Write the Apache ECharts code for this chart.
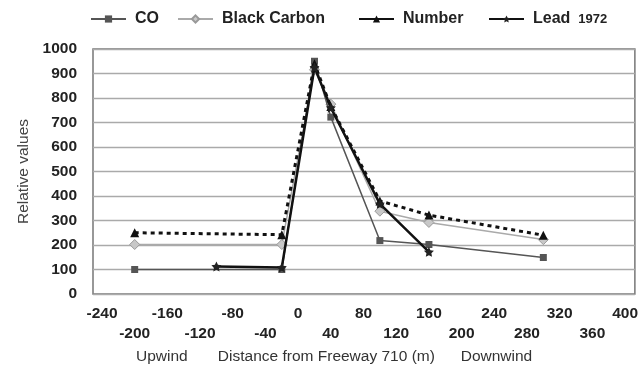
<!DOCTYPE html>
<html>
<head>
<meta charset="utf-8">
<script src="https://cdn.jsdelivr.net/npm/echarts@6/dist/echarts.min.js"></script>
<style>
  html, body { margin: 0; padding: 0; background: #fff; }
  #chart { width: 641px; height: 370px; }
</style>
</head>
<body>
<div id="chart"></div>
<script>
// Distance from the freeway (m), negative = upwind
const coX = [-200, -20, 20, 40, 100, 160, 300];
const coY = [100, 100, 950, 722, 218, 202, 149];

const bcX = [-200, -20, 20, 40, 100, 160, 300];
const bcY = [202, 202, 915, 775, 338, 292, 222];

const numX = [-200, -20, 20, 40, 100, 160, 300];
const numY = [250, 242, 940, 765, 380, 322, 240];

const leadX = [-100, -20, 20, 40, 100, 160];
const leadY = [112, 108, 925, 760, 368, 172];

const seriesNames = ['CO', 'Black Carbon', 'Number', 'Lead'];

// x tick labels, staggered on two rows
const xTickLabels = [-240, -200, -160, -120, -80, -40, 0, 40, 80, 120, 160, 200, 240, 280, 320, 360, 400];
const yTicks = { min: 0, max: 1000, step: 100 };

const pairs = (xs, ys) => xs.map((x, i) => [x, ys[i]]);

const FONT = '"Liberation Sans", Arial, sans-serif';
const chart = echarts.init(document.getElementById('chart'));

// one legend entry per block so each key sits in its own slot
const legendLeft = [85, 172, 353, 483];
const legends = seriesNames.map((name, i) => ({
  left: legendLeft[i], top: 6,
  itemWidth: 35, itemHeight: 9,
  lineStyle: { type: 'solid' },
  textStyle: { fontWeight: 'bold', fontSize: 16, color: '#222', padding: [0, 0, 0, 4],
    rich: {
      n: { fontSize: 16, fontWeight: 'bold', color: '#222' },
      y: { fontSize: 13, fontWeight: 'bold', color: '#222', padding: [0, 0, 0, 8] }
    } },
  formatter: n => n === 'Lead' ? '{n|Lead}{y|1972}' : n,
  data: [name]
}));

chart.setOption({
  animation: false,
  textStyle: { fontFamily: FONT },
  grid: { left: 93, right: 3, top: 49, bottom: 76, show: true,
          borderColor: '#777', borderWidth: 1.5, backgroundColor: 'transparent' },
  graphic: [{
    type: 'text',
    left: 136, top: 349,
    style: { text: 'Upwind       Distance from Freeway 710 (m)      Downwind',
             font: '15.5px ' + FONT, fill: '#333' }
  }],
  legend: legends,
  xAxis: {
    type: 'value',
    min: -251, max: 412,
    axisLine: { show: false },
    axisTick: { show: false },
    splitLine: { show: false },
    axisLabel: {
      customValues: xTickLabels,
      margin: 10,
      fontWeight: 'bold', fontSize: 15.5, color: '#222', lineHeight: 20,
      formatter: (v) => {
        const i = xTickLabels.indexOf(v);
        return i % 2 ? '\n' + v : String(v);
      }
    }
  },
  yAxis: {
    type: 'value',
    min: yTicks.min, max: yTicks.max, interval: yTicks.step,
    name: 'Relative values',
    nameLocation: 'middle', nameGap: 61, nameRotate: 90,
    nameTextStyle: { fontSize: 15.5, color: '#444' },
    axisLine: { show: false },
    axisTick: { show: false },
    splitLine: { lineStyle: { color: '#aaa', width: 1.3 } },
    axisLabel: { margin: 16, fontWeight: 'bold', fontSize: 15.5, color: '#222',
                 formatter: v => String(v) }
  },
  series: [{
    name: seriesNames[0], type: 'line', data: pairs(coX, coY),
    symbol: 'rect', symbolSize: 7,
    lineStyle: { color: '#555', width: 1.5 },
    itemStyle: { color: '#555' }, z: 3
  }, {
    name: seriesNames[1], type: 'line', data: pairs(bcX, bcY),
    symbol: 'diamond', symbolSize: 10,
    lineStyle: { color: '#aaa', width: 1.5 },
    itemStyle: { color: '#c8c8c8', borderColor: '#999', borderWidth: 1 }, z: 2
  }, {
    name: seriesNames[2], type: 'line', data: pairs(numX, numY),
    symbol: 'triangle', symbolSize: 9,
    lineStyle: { color: '#111', width: 3, type: [4, 4] },
    itemStyle: { color: '#111' }, z: 4
  }, {
    name: seriesNames[3], type: 'line', data: pairs(leadX, leadY),
    symbol: 'path://M0,-10L2.9,-4L9.5,-3.1L4.7,1.5L5.9,8.1L0,5L-5.9,8.1L-4.7,1.5L-9.5,-3.1L-2.9,-4Z',
    symbolSize: 10,
    lineStyle: { color: '#111', width: 2.5 },
    itemStyle: { color: '#222' }, z: 5
  }]
});
</script>
</body>
</html>
